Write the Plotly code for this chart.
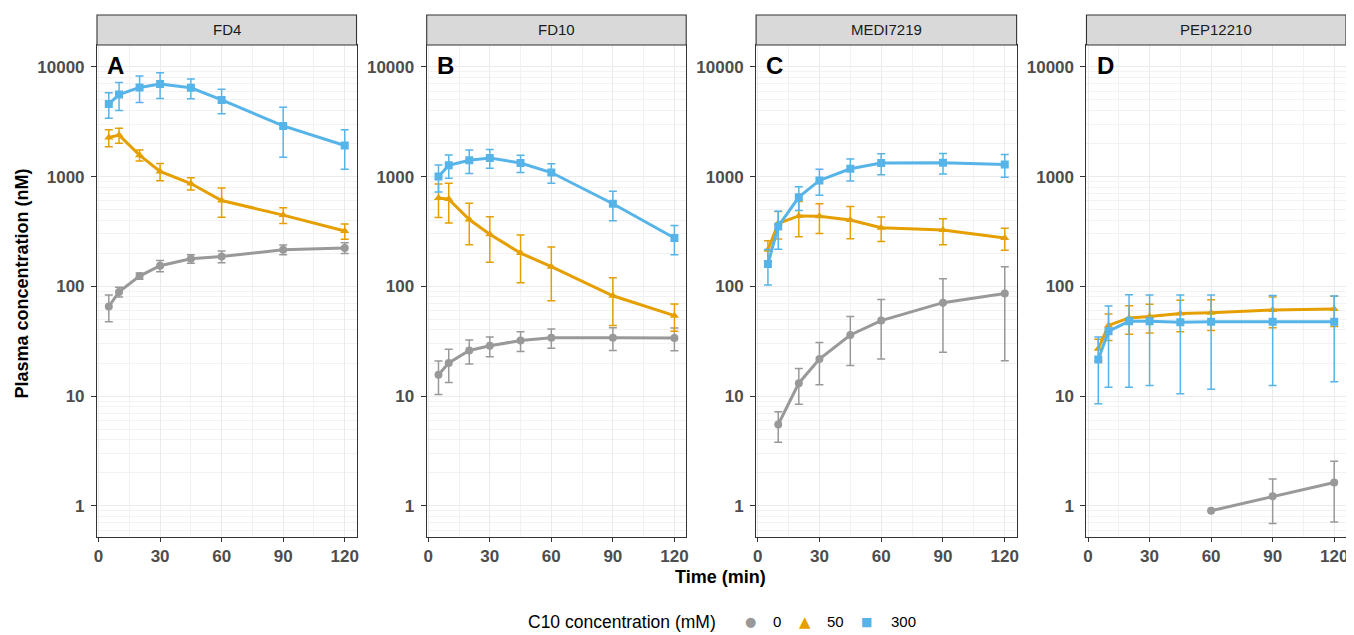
import plotly.graph_objects as go

# ---------------- data ----------------
time_min = [5, 10, 20, 30, 45, 60, 90, 120]
panels = ["FD4", "FD10", "MEDI7219", "PEP12210"]
panel_letters = ["A", "B", "C", "D"]
doses = ["0", "50", "300"]
legend_title = "C10 concentration (mM)"

# FD4
fd4_0_mean = [65.5, 89, 124, 154, 178, 187, 216, 224]
fd4_0_sd = [18, 9, 8, 18, 16, 23, 22, 25]
fd4_50_mean = [2270, 2390, 1570, 1115, 865, 606, 446, 319]
fd4_50_sd = [400, 370, 180, 200, 110, 180, 73, 50]
fd4_300_mean = [4600, 5600, 6500, 7000, 6450, 5000, 2900, 1920]
fd4_300_sd = [1200, 1600, 1750, 1850, 1330, 1250, 1400, 750]

# FD10
fd10_0_mean = [15.6, 20, 26, 28.7, 32, 34, 34, 33.8]
fd10_0_sd = [5.3, 6.7, 6.4, 5.9, 6.5, 6.8, 8, 8]
fd10_50_mean = [640, 624, 406, 298, 201, 151, 82, 54]
fd10_50_sd = [215, 247, 167, 132, 93, 77, 38, 15]
fd10_300_mean = [1000, 1270, 1410, 1480, 1330, 1090, 566, 276]
fd10_300_sd = [275, 305, 340, 285, 240, 218, 170, 82]

# MEDI7219
medi_0_mean = [None, 5.5, 13.1, 21.7, 36, 48.7, 71, 86]
medi_0_sd = [None, 1.7, 4.7, 9, 17, 27, 46, 65]
medi_50_mean = [215, 375, 438, 435, 402, 342, 326, 276]
medi_50_sd = [45, 105, 155, 132, 131, 86, 87, 63]
medi_300_mean = [160, 351, 650, 923, 1180, 1330, 1340, 1290]
medi_300_sd = [57, 133, 160, 245, 270, 290, 285, 305]

# PEP12210
pep_0_mean = [None, None, None, None, None, 0.90, 1.22, 1.63]
pep_0_sd = [None, None, None, None, None, None, 0.53, 0.92]
pep_50_mean = [27, 44, 51.5, 53, 56.5, 57.5, 61, 62]
pep_50_sd = [6, 12, 15, 15.5, 18, 18, 19, 19]
pep_300_mean = [21.5, 39, 48, 48, 47, 47.5, 47.5, 47.5]
pep_300_sd = [13, 27, 36, 35.5, 36.5, 36, 35, 34]

series = {
    "FD4": [(fd4_0_mean, fd4_0_sd), (fd4_50_mean, fd4_50_sd), (fd4_300_mean, fd4_300_sd)],
    "FD10": [(fd10_0_mean, fd10_0_sd), (fd10_50_mean, fd10_50_sd), (fd10_300_mean, fd10_300_sd)],
    "MEDI7219": [(medi_0_mean, medi_0_sd), (medi_50_mean, medi_50_sd), (medi_300_mean, medi_300_sd)],
    "PEP12210": [(pep_0_mean, pep_0_sd), (pep_50_mean, pep_50_sd), (pep_300_mean, pep_300_sd)],
}

x_ticks = [0, 30, 60, 90, 120]
y_ticks = [1, 10, 100, 1000, 10000]
y_tick_text = ["1", "10", "100", "1000", "10000"]

# ---------------- style ----------------
colors = ["#999999", "#E69F00", "#56B4E9"]
symbols = ["circle", "triangle-up", "square"]
legend_glyphs = ["\u25CF", "\u25B2", "\u25A0"]
glyph_sizes = [13, 15, 12]
FONT = "Liberation Sans, Arial, Helvetica, sans-serif"

# page offset of the figure (default body margin of the html page)
OFF = 8
W, H = 1354 - OFF, 635 - OFF
PLOT_L, PLOT_R, PLOT_T, PLOT_B = 97, 1348.3, 15, 537.3   # page coords
ML = PLOT_L - OFF
MR = W - (PLOT_R - OFF)
MT = PLOT_T - OFF
MB = H - (PLOT_B - OFF)
pw = W - ML - MR
ph = H - MT - MB


def px_x(page_x):
    return (page_x - PLOT_L) / pw


def px_y(page_y):
    return (PLOT_B - page_y) / ph


panel_px = [(97, 357), (427.3, 687.3), (757.3, 1018.3), (1088.3, 1348.3)]
domains = [[max(0.0, px_x(a)), min(1.0, px_x(b))] for a, b in panel_px]
ytop = px_y(45)

minor_vals = [m * 10 ** e for e in range(-1, 5) for m in range(2, 10)]

fig = go.Figure()

for i, name in enumerate(panels):
    ax = "" if i == 0 else str(i + 1)
    for j, (mean, sd) in enumerate(series[name]):
        fig.add_trace(go.Scatter(
            x=time_min, y=mean,
            mode="lines+markers",
            line=dict(color=colors[j], width=3),
            marker=dict(color=colors[j], symbol=symbols[j], size=8),
            error_y=dict(type="data", array=sd, visible=True, color=colors[j],
                         thickness=1.5, width=4),
            connectgaps=False,
            showlegend=False,
            xaxis="x" + ax, yaxis="y" + ax,
            hoverinfo="x+y",
        ))
    axis_common = dict(
        showline=True, mirror=True, linecolor="#333333", linewidth=1.1,
        ticks="outside", tickcolor="#333333", tickwidth=1.1,
        tickfont=dict(family=FONT, size=17, color="#4d4d4d", weight="bold"),
        gridcolor="#ebebeb", gridwidth=1.1, zeroline=False,
    )
    fig.layout["xaxis" + ax] = dict(
        axis_common, domain=domains[i], anchor="y" + ax, ticklen=4,
        range=[-0.75, 125.75], tickvals=x_ticks,
        minor=dict(tickmode="array", tickvals=[15, 45, 75, 105], showgrid=True,
                   gridcolor="#f2f2f2", gridwidth=0.6, ticks=""),
    )
    fig.layout["yaxis" + ax] = dict(
        axis_common, domain=[0, ytop], anchor="x" + ax, ticklen=5,
        ticklabelstandoff=3,
        type="log", range=[-0.285, 4.2],
        tickvals=y_ticks, ticktext=y_tick_text,
        minor=dict(tickmode="array", tickvals=minor_vals, showgrid=True,
                   gridcolor="#f2f2f2", gridwidth=0.6, ticks=""),
    )
    # strip
    fig.add_shape(type="rect", xref="x" + ax + " domain", yref="paper",
                  x0=0, x1=1, y0=ytop, y1=1,
                  fillcolor="#d9d9d9", line=dict(color="#333333", width=1.1),
                  layer="above")
    fig.add_annotation(text=name, xref="x" + ax + " domain", yref="paper",
                       x=0.5, y=(ytop + 1) / 2, showarrow=False,
                       font=dict(family=FONT, size=15, color="#1a1a1a"),
                       xanchor="center", yanchor="middle")
    fig.add_annotation(text="<b>" + panel_letters[i] + "</b>", xref="x" + ax + " domain",
                       yref="paper", x=0.032, y=px_y(66), showarrow=False,
                       font=dict(family=FONT, size=24, color="#000000"),
                       xanchor="left", yanchor="middle")

fig.add_annotation(text="<b>Time (min)</b>", xref="paper", yref="paper",
                   x=px_x(722), y=px_y(577), showarrow=False,
                   font=dict(family=FONT, size=18, color="#000000"),
                   xanchor="center", yanchor="middle")
fig.add_annotation(text="<b>Plasma concentration (nM)</b>", xref="paper", yref="paper",
                   x=px_x(21.5), y=px_y(284), showarrow=False, textangle=-90,
                   font=dict(family=FONT, size=18, color="#000000"),
                   xanchor="center", yanchor="middle")

# legend (bottom)
LEG_Y = 622
fig.add_annotation(text=legend_title, xref="paper", yref="paper",
                   x=px_x(527), y=px_y(LEG_Y), showarrow=False,
                   font=dict(family=FONT, size=17.5, color="#000000"),
                   xanchor="left", yanchor="middle")
glyph_x = [751.7, 806, 867.7]
label_x = [778, 837, 905]
for j, d in enumerate(doses):
    fig.add_annotation(text=legend_glyphs[j], xref="paper", yref="paper",
                       x=px_x(glyph_x[j]), y=px_y(LEG_Y), showarrow=False,
                       font=dict(family="DejaVu Sans", size=glyph_sizes[j], color=colors[j]),
                       xanchor="center", yanchor="middle")
    fig.add_annotation(text=d, xref="paper", yref="paper",
                       x=px_x(label_x[j]), y=px_y(LEG_Y), showarrow=False,
                       font=dict(family=FONT, size=15, color="#000000"),
                       xanchor="center", yanchor="middle")

fig.update_layout(
    width=W, height=H,
    margin=dict(l=ML, r=MR, t=MT, b=MB, pad=0),
    paper_bgcolor="white", plot_bgcolor="white",
    font=dict(family=FONT),
    showlegend=False,
)

fig.write_html("out.html")
